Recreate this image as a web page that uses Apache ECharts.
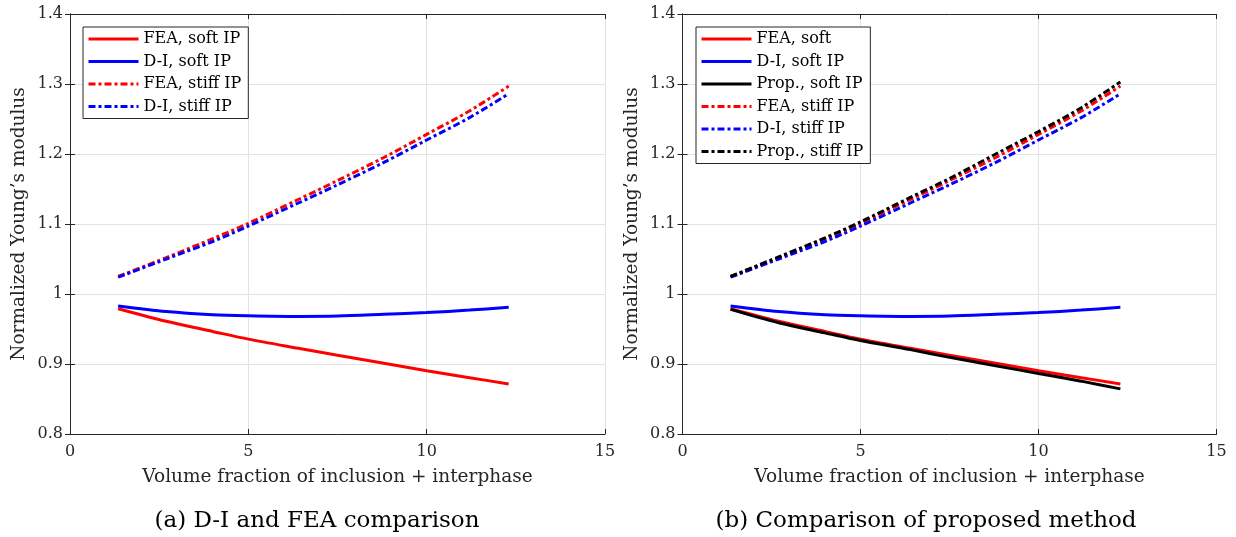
<!DOCTYPE html>
<html>
<head>
<meta charset="utf-8">
<script src="https://cdn.jsdelivr.net/npm/echarts@6/dist/echarts.min.js"></script>
<style>
  html, body { margin: 0; padding: 0; background: #ffffff; }
  #chart { width: 1236px; height: 537px; }
</style>
</head>
<body>
<div id="chart"></div>
<script>
// Volume fraction of inclusion + interphase (%)
const volFrac = [1.35, 2.7, 4.0, 5.0, 6.4, 7.5, 8.8, 10.0, 11.2, 12.3];

// Normalized Young's modulus, soft interphase
const feaSoft  = [0.979, 0.961, 0.9465, 0.9355, 0.9225, 0.9125, 0.901, 0.8905, 0.8805, 0.8715];
const diSoft   = [0.983, 0.975, 0.9705, 0.969, 0.968, 0.9685, 0.971, 0.9735, 0.977, 0.981];
const propSoft = [0.978, 0.959, 0.9445, 0.9335, 0.9205, 0.9095, 0.8975, 0.8865, 0.8755, 0.8645];

// Normalized Young's modulus, stiff interphase
const feaStiff  = [1.025, 1.052, 1.079, 1.101, 1.135, 1.162, 1.195, 1.228, 1.2615, 1.297];
const diStiff   = [1.024, 1.050, 1.075, 1.097, 1.130, 1.156, 1.188, 1.220, 1.252, 1.286];
const propStiff = [1.025, 1.053, 1.080, 1.103, 1.138, 1.165, 1.200, 1.232, 1.266, 1.303];

const xTicks = [0, 5, 10, 15];
const yTicks = [0.8, 0.9, 1, 1.1, 1.2, 1.3, 1.4];

const legendA = ['FEA, soft IP', 'D-I, soft IP', 'FEA, stiff IP', 'D-I, stiff IP'];
const legendB = ['FEA, soft', 'D-I, soft IP', 'Prop., soft IP', 'FEA, stiff IP', 'D-I, stiff IP', 'Prop., stiff IP'];
const captions = ['(a) D-I and FEA comparison', '(b) Comparison of proposed method'];
const xTitle = 'Volume fraction of inclusion + interphase';
const yTitle = 'Normalized Young\u2019s modulus';

const FONT = 'DejaVu Serif';
const INK = '#262626';
const RED = '#ff0000', BLUE = '#0000ff', BLACK = '#000000';
const DASH_DOT = [7, 3, 3, 3];

const pairs = ys => volFrac.map((x, i) => [x, ys[i]]);

const grids = [
  { left: 70, top: 14, width: 535, height: 420 },
  { left: 682.5, top: 14, width: 534, height: 420 }
];

function xAxes(gi) {
  const base = {
    gridIndex: gi, type: 'value',
    min: xTicks[0], max: xTicks[xTicks.length - 1], interval: 5,
    axisLine: { show: true, lineStyle: { color: INK, width: 1 } },
    axisTick: { show: true, inside: true, length: 5, lineStyle: { color: INK } },
    splitLine: { show: false }
  };
  return [
    Object.assign({}, base, {
      position: 'bottom',
      splitLine: { show: true, lineStyle: { color: '#e3e3e3', width: 1 } },
      axisLabel: { fontFamily: FONT, fontSize: 16, color: INK, margin: 10 },
      name: xTitle, nameLocation: 'middle', nameGap: 34,
      nameTextStyle: { fontFamily: FONT, fontSize: 18.5, color: INK }
    }),
    Object.assign({}, base, { position: 'top', axisLabel: { show: false } })
  ];
}

function yAxes(gi) {
  const base = {
    gridIndex: gi, type: 'value',
    min: yTicks[0], max: yTicks[yTicks.length - 1], interval: 0.1,
    axisLine: { show: true, lineStyle: { color: INK, width: 1 } },
    axisTick: { show: true, inside: true, length: 5, lineStyle: { color: INK } },
    splitLine: { show: false }
  };
  return [
    Object.assign({}, base, {
      position: 'left',
      splitLine: { show: true, lineStyle: { color: '#e3e3e3', width: 1 } },
      axisLabel: { fontFamily: FONT, fontSize: 16, color: INK, margin: 7 },
      name: yTitle, nameLocation: 'middle', nameGap: 41,
      nameTextStyle: { fontFamily: FONT, fontSize: 18.5, color: INK }
    }),
    Object.assign({}, base, { position: 'right', axisLabel: { show: false } })
  ];
}

function line(name, data, color, dashed, axisBase) {
  return {
    name: name, type: 'line', data: pairs(data),
    xAxisIndex: axisBase, yAxisIndex: axisBase,
    showSymbol: false, symbol: 'none', smooth: 0.3,
    silent: true, animation: false,
    lineStyle: { color: color, width: 3, type: dashed ? DASH_DOT : 'solid' },
    itemStyle: { color: color }
  };
}

function legend(names, left, top) {
  return {
    data: names, orient: 'vertical', left: left, top: top,
    itemWidth: 50, itemHeight: 14, itemGap: 6.5,
    padding: [4, 7, 4, 4],
    backgroundColor: '#ffffff', borderColor: INK, borderWidth: 1, borderRadius: 0,
    selectedMode: false,
    // only the line sample is shown in each entry, no marker
    itemStyle: { opacity: 0, borderWidth: 0 },
    lineStyle: { width: 3 },
    textStyle: { fontFamily: FONT, fontSize: 16, color: BLACK }
  };
}

const chart = echarts.init(document.getElementById('chart'), null, { renderer: 'canvas' });
chart.setOption({
  backgroundColor: '#ffffff',
  animation: false,
  title: [
    { text: captions[0], left: 312, top: 505, textAlign: 'center',
      textStyle: { fontFamily: FONT, fontSize: 23, fontWeight: 'normal', color: BLACK } },
    { text: captions[1], left: 921, top: 505, textAlign: 'center',
      textStyle: { fontFamily: FONT, fontSize: 23, fontWeight: 'normal', color: BLACK } }
  ],
  grid: grids,
  xAxis: [...xAxes(0), ...xAxes(1)],
  yAxis: [...yAxes(0), ...yAxes(1)],
  legend: [legend(legendA, 83, 27), legend(legendB, 696, 27)],
  series: [
    line('FEA, soft IP', feaSoft, RED, false, 0),
    line('D-I, soft IP', diSoft, BLUE, false, 0),
    line('FEA, stiff IP', feaStiff, RED, true, 0),
    line('D-I, stiff IP', diStiff, BLUE, true, 0),

    line('FEA, soft', feaSoft, RED, false, 2),
    line('D-I, soft IP', diSoft, BLUE, false, 2),
    line('Prop., soft IP', propSoft, BLACK, false, 2),
    line('FEA, stiff IP', feaStiff, RED, true, 2),
    line('D-I, stiff IP', diStiff, BLUE, true, 2),
    line('Prop., stiff IP', propStiff, BLACK, true, 2)
  ]
});
</script>
</body>
</html>
